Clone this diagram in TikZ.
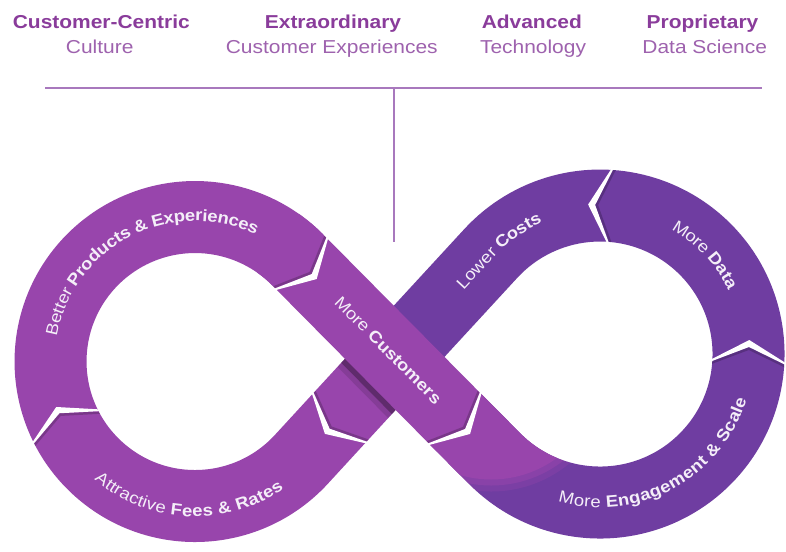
\documentclass[tikz,border=0pt]{standalone}
\usepackage{fontspec}
\setmainfont{Liberation Sans}
\newfontfamily\widefam{Liberation Sans}[FakeStretch=1.12]
\usetikzlibrary{calc,decorations.text}
\definecolor{lobeM}{HTML}{9845AC}
\definecolor{lobeV}{HTML}{6F3DA1}
\definecolor{ttlbold}{HTML}{8A3C9B}
\definecolor{ttlreg}{HTML}{9E62AE}
\definecolor{rulec}{HTML}{A878BD}
\definecolor{lbl}{HTML}{F4EEF8}
\newcommand\bandfmt{\widefam\fontsize{16.5}{18}\selectfont\color{lbl}}
\begin{document}
\begin{tikzpicture}[x=1pt, y=-1pt,
  band/.style={line width=72pt, line cap=butt, line join=round},
  ttlb/.style={font=\widefam\fontsize{18.7}{20}\selectfont\bfseries, text=ttlbold, inner sep=0pt, anchor=base},
  ttlr/.style={font=\widefam\fontsize{18.7}{20}\selectfont, text=ttlreg, inner sep=0pt, anchor=base},
  rulestyle/.style={draw=rulec, line width=1.3pt},
  labelpath/.style={decorate, decoration={text along path, text align=center, raise=-5pt, text={#1}}},
  chevron/.pic={
    \fill[black, opacity=.2] (-2,36) -- (14,0) -- (-2,-36) -- (-4.5,-36) -- (11,0) -- (-4.5,36) -- cycle;
    \fill[white] (0,37) -- (21,0) -- (0,-37) -- (-2,-37) -- (14,0) -- (-2,37) -- cycle;
  }]
\useasboundingbox (0,0) rectangle (786,551);
\fill[white] (0,0) rectangle (786,551);

% centres of the two lobes, crossing point and tangent points
\coordinate (CL) at (195,361.5);
\coordinate (CR) at (600,354);
\coordinate (X)  at (394.7,357.8);
\coordinate (T1) at (297.7,259.8);
\coordinate (T2) at (494.5,458.5);
\coordinate (T3) at (301.4,459.3);
\coordinate (T4) at (490.7,253.5);
% segment boundaries (chevrons)
\coordinate (A) at (301.9,264.1);
\coordinate (B) at (455.3,419.0);
\coordinate (Bx) at (462.3,426.1);
\coordinate (C) at (748.3,361.0);
\coordinate (D) at (609.1,205.8);
\coordinate (E) at (339.1,418.4);
\coordinate (F) at (65.6,425.8);

% header rules
\coordinate (r1) at (45,88);
\coordinate (r2) at (762,88);
\coordinate (vtop) at (394,88);
\coordinate (vbot) at (394,242);
\draw[rulestyle] (r1) -- (r2);
\draw[rulestyle] (vtop) -- (vbot);

% header texts
\node[ttlb] (h1a) at (101.3,28.3) {Customer-Centric};
\node[ttlr] (h1b) at (99.7,53.3) {Culture};
\node[ttlb] (h2a) at (333,28.3) {Extraordinary};
\node[ttlr] (h2b) at (331.8,53.3) {Customer Experiences};
\node[ttlb] (h3a) at (531.8,28.3) {Advanced};
\node[ttlr] (h3b) at (533,53.3) {Technology};
\node[ttlb] (h4a) at (702.5,28.3) {Proprietary};
\node[ttlr] (h4b) at (704.7,53.3) {Data Science};

% right lobe (violet) and lower diagonal up to the crossing
\draw[band, lobeV] (B) -- (T2) arc[start angle=135.29, end angle=-137.41, radius=148.5] -- (X);
% left lobe (magenta)
\draw[band, lobeM] (X) -- (T3) arc[start angle=42.59, end angle=315.29, radius=144.5];

% magenta glow running into the violet lobe
\begin{scope}
  \clip (491.2,368.5) circle[radius=123];
  \draw[band, lobeM, opacity=.3] (B) -- (T2) arc[start angle=135.29, end angle=95, radius=148.5];
\end{scope}
\begin{scope}
  \clip (491.2,368.5) circle[radius=117];
  \draw[band, lobeM, opacity=.5] (B) -- (T2) arc[start angle=135.29, end angle=95, radius=148.5];
\end{scope}
\begin{scope}
  \clip (491.2,368.5) circle[radius=111];
  \draw[band, lobeM] (B) -- (T2) arc[start angle=135.29, end angle=95, radius=148.5];
\end{scope}

% shadow cast by the upper strand on the lower one
\coordinate (s1) at (300.2,313.5);
\coordinate (s2) at (440.9,455.7);
\begin{scope}
  \clip (517.2,277.9) -- (464.2,229.1) -- (274.9,434.9) -- (327.9,483.7) -- cycle;
  \draw[line width=22pt, black, opacity=.12] (s1) -- (s2);
  \draw[line width=11pt, black, opacity=.28] (s1) -- (s2);
\end{scope}

% upper strand of the crossing
\draw[band, lobeM] ($(CL)+(305:144.5)$) arc[start angle=305, end angle=315.29, radius=144.5] -- (Bx);

% chevrons between segments
\pic[rotate=-45.29] at (A) {chevron};
\pic[rotate=-45.29] at (B) {chevron};
\pic[rotate=87.3] at (C) {chevron};
\pic[rotate=176.5] at (D) {chevron};
\pic[rotate=-132.6] at (E) {chevron};
\pic[rotate=-243.6] at (F) {chevron};

% labels along the loop
\path[labelpath={|\bandfmt\mdseries|Better |\bandfmt\bfseries|Products {\&} Experiences}]
  ($(CL)+(173:145.5)$) arc[start angle=173, end angle=313, radius=145.5];
\path[labelpath={|\bandfmt\mdseries|More |\bandfmt\bfseries|Customers}]
  (310.4,272.6) -- (465.1,428.9);
\path[labelpath={|\bandfmt\mdseries|More |\bandfmt\bfseries|Engagement {\&} Scale}]
  ($(CR)+(131.6:148.5)$) arc[start angle=131.6, end angle=-8.4, radius=148.5];
\path[labelpath={|\bandfmt\mdseries|More |\bandfmt\bfseries|Data}]
  ($(CR)+(-93.3:148.5)$) arc[start angle=-93.3, end angle=6.7, radius=148.5];
\path[labelpath={|\bandfmt\mdseries|Lower |\bandfmt\bfseries|Costs}]
  (426,324) -- (T4) arc[start angle=-137.41, end angle=-94.41, radius=148.5];
\path[labelpath={|\bandfmt\mdseries|Attractive |\bandfmt\bfseries|Fees {\&} Rates}]
  ($(CL)+(162.8:150)$) arc[start angle=162.8, end angle=22.8, radius=150];
\end{tikzpicture}
\end{document}
